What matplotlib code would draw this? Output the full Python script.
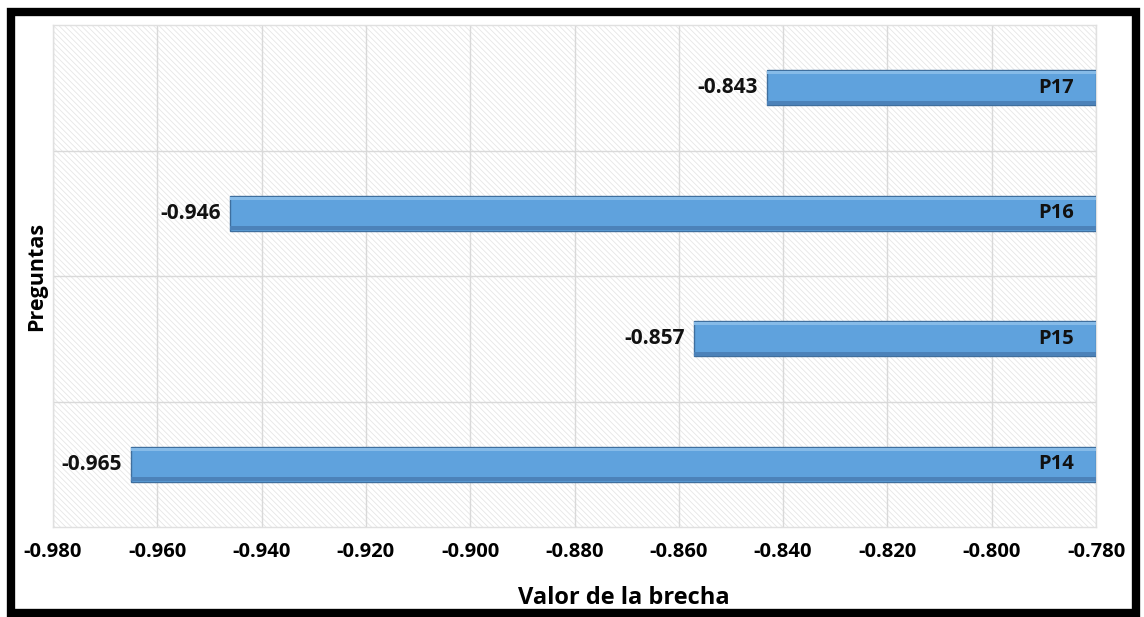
import matplotlib.pyplot as plt
from matplotlib.patches import Rectangle
from matplotlib.ticker import FormatStrFormatter

# Brecha por pregunta
preguntas = ['P14', 'P15', 'P16', 'P17']
brecha = [-0.965, -0.857, -0.946, -0.843]
x_min, x_max = -0.980, -0.780

plt.rcParams['font.family'] = ['Open Sans', 'DejaVu Sans']
plt.rcParams['hatch.linewidth'] = 0.6

fig = plt.figure(figsize=(11.44, 6.17), dpi=100)
ax = fig.add_axes([53 / 1144, 1 - 527 / 617, 1043 / 1144, 502 / 617])

# fondo rayado del area de trazado
ax.add_patch(Rectangle((0, 0), 1, 1, transform=ax.transAxes, facecolor='white',
                       edgecolor='#e6e6e6', hatch='\\\\\\\\\\\\', lw=0, zorder=0))

y = list(range(len(preguntas)))
h = 0.28
ancho = [x_max - v for v in brecha]

ax.barh(y, ancho, left=brecha, height=h, color='#5fa2dd',
        edgecolor='#3f6f9e', linewidth=1.0, zorder=3)
# brillo superior de cada barra
ax.barh([p + h / 2 - 0.02 for p in y], ancho, left=brecha, height=0.025,
        color='#86bbe8', linewidth=0, zorder=4)
# sombra inferior
ax.barh([p - h / 2 + 0.02 for p in y], ancho, left=brecha, height=0.03,
        color='#4c82b9', linewidth=0, zorder=4)

for p, v, nombre in zip(y, brecha, preguntas):
    ax.annotate(f'{v:.3f}', (v, p), xytext=(-7, 0), textcoords='offset points',
                ha='right', va='center', fontsize=15, fontweight='bold', color='#111111')
    ax.annotate(nombre, (x_max, p), xytext=(-16, 0), textcoords='offset points',
                ha='right', va='center', fontsize=14.5, fontweight='bold',
                color='#111111', zorder=5)

ax.set_xlim(x_min, x_max)
ax.set_ylim(-0.5, len(preguntas) - 0.5)
ax.set_xticks([x_min + 0.02 * i for i in range(11)])
ax.xaxis.set_major_formatter(FormatStrFormatter('%.3f'))
ax.set_yticks([0.5, 1.5, 2.5])
ax.set_yticklabels([])
ax.tick_params(axis='both', length=0)
ax.tick_params(axis='x', pad=11, labelsize=14.5)
for lbl in ax.get_xticklabels():
    lbl.set_fontweight('bold')

ax.grid(True, color='#d9d9d9', linewidth=1, zorder=1)
ax.set_axisbelow(True)
for s in ax.spines.values():
    s.set_color('#e0e0e0')
    s.set_linewidth(1)

ax.set_xlabel('Valor de la brecha', fontsize=17, fontweight='bold')
ax.xaxis.set_label_coords(0.547, -0.118)
ax.set_ylabel('Preguntas', fontsize=15.5, fontweight='bold', labelpad=1)

# marco negro del grafico
fig.patches.append(Rectangle((11 / 1144, 1 - 613 / 617), 1125 / 1144, 601 / 617,
                             transform=fig.transFigure, fill=False,
                             edgecolor='black', linewidth=6, zorder=10))

fig.savefig('out.png', dpi=100)
